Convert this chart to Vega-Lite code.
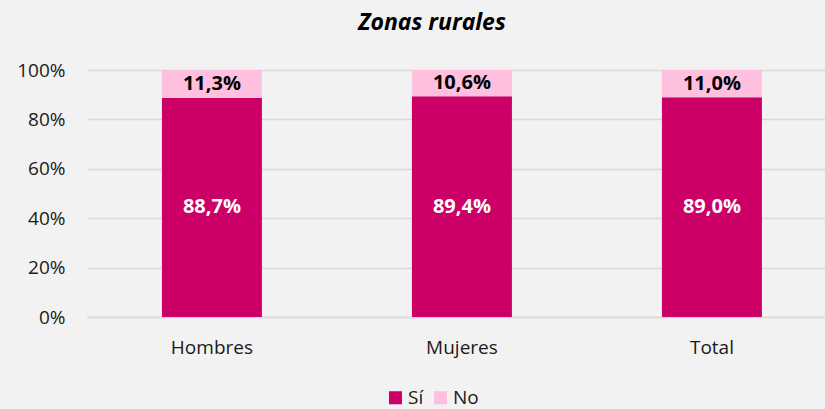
{
  "$schema": "https://vega.github.io/schema/vega-lite/v6.json",
  "width": 738,
  "height": 247,
  "autosize": {"type": "none"},
  "padding": {"left": 87, "top": 70, "right": 0, "bottom": 92},
  "background": "#F2F2F2",
  "config": {
    "view": {"stroke": null},
    "font": "Open Sans",
    "locale": {"number": {"decimal": ",", "thousands": ".", "grouping": [3], "currency": ["", " €"]}}
  },
  "title": {
    "text": "Zonas rurales",
    "fontSize": 23,
    "fontWeight": "bold",
    "fontStyle": "italic",
    "font": "Open Sans",
    "color": "#000000",
    "anchor": "middle",
    "dx": -24,
    "offset": 26
  },
  "data": {
    "values": [
      {"cat": "Hombres", "resp": "Sí", "orden": 1, "value": 0.887},
      {"cat": "Hombres", "resp": "No", "orden": 2, "value": 0.113},
      {"cat": "Mujeres", "resp": "Sí", "orden": 1, "value": 0.894},
      {"cat": "Mujeres", "resp": "No", "orden": 2, "value": 0.106},
      {"cat": "Total", "resp": "Sí", "orden": 1, "value": 0.890},
      {"cat": "Total", "resp": "No", "orden": 2, "value": 0.110}
    ]
  },
  "transform": [
    {"stack": "value", "groupby": ["cat"], "sort": [{"field": "orden"}], "as": ["v0", "v1"]},
    {"calculate": "(datum.v0 + datum.v1) / 2", "as": "mid"}
  ],
  "encoding": {
    "x": {
      "field": "cat",
      "type": "nominal",
      "sort": ["Hombres", "Mujeres", "Total"],
      "scale": {"paddingInner": 0.6, "paddingOuter": 0.276, "align": 0.543},
      "axis": {
        "title": null,
        "labelAngle": 0,
        "labelFontSize": 19,
        "labelColor": "#1a1a1a",
        "labelPadding": 21,
        "ticks": false,
        "domain": true,
        "domainColor": "#D9D9D9",
        "domainWidth": 1.5
      }
    }
  },
  "layer": [
    {
      "mark": {"type": "bar"},
      "encoding": {
        "y": {
          "field": "v0",
          "type": "quantitative",
          "scale": {"domain": [0, 1]},
          "axis": {
            "title": null,
            "format": ".0%",
            "values": [0, 0.2, 0.4, 0.6, 0.8, 1],
            "labelFontSize": 19,
            "labelColor": "#1a1a1a",
            "labelPadding": 22,
            "ticks": false,
            "domain": false,
            "gridColor": "#D9D9D9",
            "gridWidth": 1.5
          }
        },
        "y2": {"field": "v1"},
        "color": {
          "field": "resp",
          "type": "nominal",
          "scale": {"domain": ["Sí", "No"], "range": ["#CC0066", "#FFBFDF"]},
          "legend": {
            "title": null,
            "orient": "none",
            "direction": "horizontal",
            "legendX": 299,
            "legendY": 318,
            "symbolType": "square",
            "symbolSize": 170,
            "symbolStrokeWidth": 0,
            "labelFontSize": 19,
            "labelColor": "#1a1a1a",
            "columnPadding": 7,
            "labelOffset": 3
          }
        }
      }
    },
    {
      "mark": {"type": "text", "fontSize": 20, "fontWeight": "bold", "baseline": "middle"},
      "encoding": {
        "y": {"field": "mid", "type": "quantitative"},
        "text": {"field": "value", "type": "quantitative", "format": ".1%"},
        "color": {
          "condition": {"test": "datum.resp === 'Sí'", "value": "#FFFFFF"},
          "value": "#000000"
        }
      }
    }
  ]
}
